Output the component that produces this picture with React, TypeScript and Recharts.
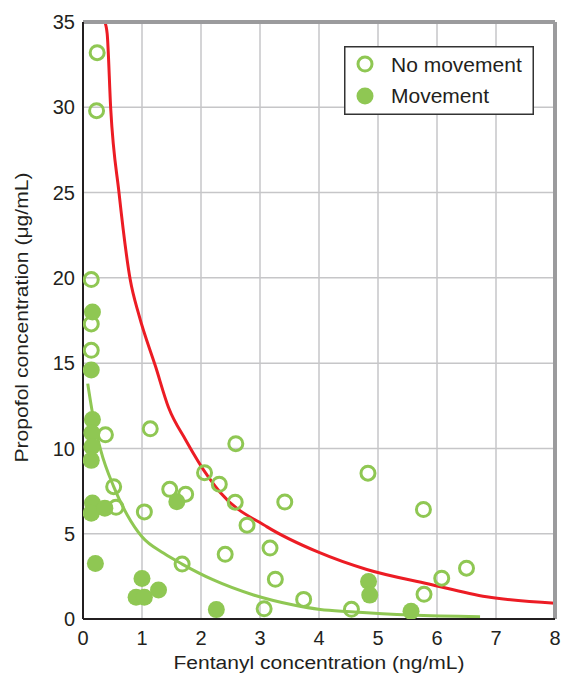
import React from 'react';
import {
  ComposedChart,
  Scatter,
  Line,
  XAxis,
  YAxis,
  CartesianGrid,
  ReferenceLine,
  Legend,
} from 'recharts';

const noMovementX = [0.24, 0.23, 0.14, 0.14, 0.14, 0.38, 1.14, 0.52, 0.56, 1.04, 1.47, 1.74, 2.06, 2.31, 2.59, 2.58, 2.78, 3.42, 2.41, 1.68, 3.17, 3.26, 3.07, 3.74, 4.55, 4.83, 5.77, 5.78, 6.08, 6.5];
const noMovementY = [33.2, 29.8, 19.9, 17.3, 15.75, 10.8, 11.15, 7.76, 6.55, 6.28, 7.6, 7.32, 8.58, 7.9, 10.28, 6.85, 5.5, 6.86, 3.79, 3.22, 4.16, 2.33, 0.6, 1.15, 0.57, 8.55, 6.42, 1.45, 2.39, 2.98];

const movementX = [0.16, 0.14, 0.16, 0.15, 0.15, 0.14, 0.16, 0.14, 0.37, 0.21, 1.0, 0.9, 1.04, 1.28, 1.59, 2.26, 4.84, 4.86, 5.56];
const movementY = [18.0, 14.6, 11.7, 10.9, 10.1, 9.3, 6.8, 6.2, 6.5, 3.25, 2.38, 1.27, 1.27, 1.7, 6.88, 0.55, 2.2, 1.4, 0.45];

const redCurveX = [0.37, 0.41, 0.47, 0.61, 0.8, 0.95, 1.23, 1.45, 1.74, 2.13, 2.33, 3.12, 4.0, 4.81, 5.86, 6.84, 8.0];
const redCurveY = [35, 34.3, 29.9, 25.0, 19.9, 17.8, 14.8, 12.4, 10.5, 8.3, 7.4, 5.4, 3.9, 2.9, 2.05, 1.3, 0.92];

const greenCurveX = [0.08, 0.18, 0.3, 0.52, 0.75, 1.0, 1.37, 1.68, 2.21, 2.89, 3.57, 4.02, 4.53, 5.55, 6.73];
const greenCurveY = [13.8, 11.7, 9.9, 7.76, 6.1, 4.82, 3.85, 3.22, 2.29, 1.41, 0.82, 0.56, 0.43, 0.23, 0.13];

const xTicks = [0, 1, 2, 3, 4, 5, 6, 7, 8];
const yTicks = [0, 5, 10, 15, 20, 25, 30, 35];
const legendLabels = ['No movement', 'Movement'];
const xTitle = 'Fentanyl concentration (ng/mL)';
const yTitle = 'Propofol concentration (\u03bcg/mL)';

const zip = (xs: number[], ys: number[]) => xs.map((x, i) => ({ x, y: ys[i] }));
const noMovement = zip(noMovementX, noMovementY);
const movement = zip(movementX, movementY);
const redCurve = zip(redCurveX, redCurveY);
const greenCurve = zip(greenCurveX, greenCurveY);

const GREEN = '#8fc753';
const RED = '#ec1c24';
const TEXT = '#231f20';
const BORDER = '#9b9b9d';
const FONT = '"Liberation Sans", Arial, Helvetica, sans-serif';

const OpenDot = (p: any) => (
  <circle cx={p.cx} cy={p.cy} r={7} fill="none" stroke={GREEN} strokeWidth={3} />
);
const FilledDot = (p: any) => <circle cx={p.cx} cy={p.cy} r={8.5} fill={GREEN} />;

const XTitle = (props: any) => {
  const vb = props.viewBox || {};
  return (
    <text
      x={vb.x + vb.width / 2}
      y={669}
      textAnchor="middle"
      fontSize={18}
      fill={TEXT}
      fontFamily={FONT}
      textLength={291}
      lengthAdjust="spacingAndGlyphs"
    >
      {xTitle}
    </text>
  );
};

const YTitle = (props: any) => {
  const vb = props.viewBox || {};
  const cx = 28;
  const cy = vb.y + vb.height / 2 - 3;
  return (
    <text
      x={cx}
      y={cy}
      transform={`rotate(-90 ${cx} ${cy})`}
      textAnchor="middle"
      fontSize={18}
      fill={TEXT}
      fontFamily={FONT}
      textLength={290}
      lengthAdjust="spacingAndGlyphs"
    >
      {yTitle}
    </text>
  );
};

const LegendBox = () => (
  <svg width={190} height={69} style={{ display: 'block' }}>
    <rect x={0.75} y={0.75} width={188.5} height={67.5} fill="#fff" stroke="#333" strokeWidth={1.5} />
    <circle cx={21} cy={18} r={7} fill="none" stroke={GREEN} strokeWidth={3} />
    <circle cx={21} cy={50} r={8.5} fill={GREEN} />
    <text x={47} y={25.5} fontSize={21} fill={TEXT} fontFamily={FONT}>
      {legendLabels[0]}
    </text>
    <text x={47} y={57} fontSize={21} fill={TEXT} fontFamily={FONT}>
      {legendLabels[1]}
    </text>
  </svg>
);

export default function App() {
  return (
    <div style={{ position: 'absolute', left: 0, top: 0, width: 562, height: 675, fontFamily: FONT }}>
      <ComposedChart
        width={562}
        height={675}
        margin={{ top: 22, right: 7, bottom: 0, left: 0 }}
      >
        <CartesianGrid stroke="#c6c6c8" strokeWidth={1.5} />
        <XAxis
          type="number"
          dataKey="x"
          domain={[0, 8]}
          ticks={xTicks}
          allowDataOverflow
          height={56}
          tickLine={false}
          tickSize={6}
          tickMargin={6}
          axisLine={{ stroke: TEXT, strokeWidth: 2 }}
          tick={{ fill: TEXT, fontSize: 20, fontFamily: FONT }}
          label={<XTitle />}
        />
        <YAxis
          type="number"
          dataKey="y"
          domain={[0, 35]}
          ticks={yTicks}
          allowDataOverflow
          width={83}
          tickLine={false}
          tickSize={6}
          tickMargin={2}
          axisLine={{ stroke: TEXT, strokeWidth: 2 }}
          tick={{ fill: TEXT, fontSize: 20, fontFamily: FONT }}
          label={<YTitle />}
        />
        <Scatter data={noMovement} dataKey="y" shape={OpenDot} isAnimationActive={false} legendType="none" />
        <Scatter data={movement} dataKey="y" shape={FilledDot} isAnimationActive={false} legendType="none" />
        <Line
          data={greenCurve}
          dataKey="y"
          type="monotone"
          stroke={GREEN}
          strokeWidth={3}
          dot={false}
          activeDot={false}
          isAnimationActive={false}
          legendType="none"
        />
        <Line
          data={redCurve}
          dataKey="y"
          type="monotone"
          stroke={RED}
          strokeWidth={3}
          dot={false}
          activeDot={false}
          isAnimationActive={false}
          legendType="none"
        />
        <ReferenceLine
          segment={[{ x: 0, y: 35 }, { x: 8, y: 35 }]}
          stroke={BORDER}
          strokeWidth={4}
          ifOverflow="visible"
        />
        <ReferenceLine
          segment={[{ x: 8, y: 0 }, { x: 8, y: 35 }]}
          stroke={BORDER}
          strokeWidth={4}
          ifOverflow="visible"
        />
        <Legend
          layout="vertical"
          align="center"
          verticalAlign="middle"
          content={<LegendBox />}
          wrapperStyle={{ position: 'absolute', left: 344, top: 46, width: 190, height: 69 }}
        />
      </ComposedChart>
    </div>
  );
}
